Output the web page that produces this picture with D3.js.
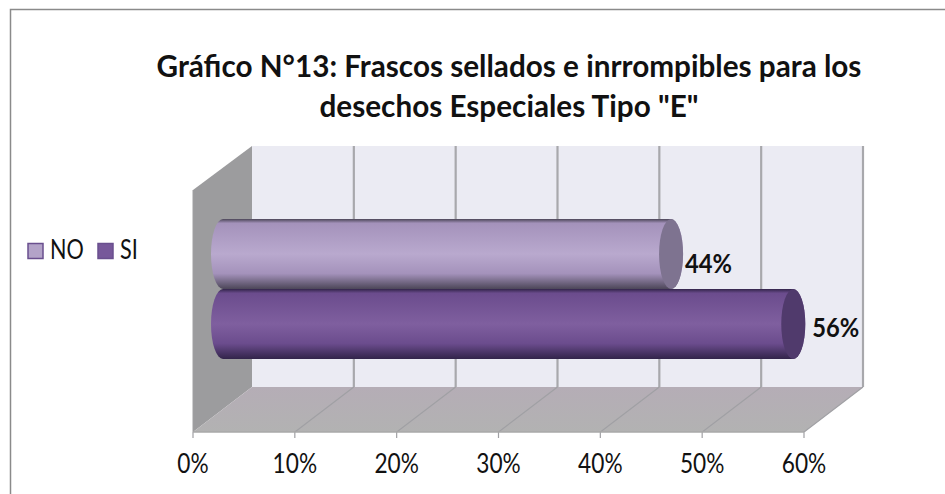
<!DOCTYPE html>
<html><head><meta charset="utf-8">
<script src="https://cdn.jsdelivr.net/npm/d3@7"></script>
<style>html,body{margin:0;background:#fff}svg{display:block}text{font-family:Lato,"Open Sans",sans-serif}</style>
</head><body><svg id="c" width="945" height="494"></svg>
<script>
const categories=["NO","SI"];
const seriesValues=[44,56];
const seriesLight=["#b9a9ce","#7f5f9f"];
const seriesDark=["#4c4658","#32244a"];
const seriesMid=["#a492bb","#6b4c8d"];
const seriesCap=["#7e7390","#503a6c"];
const xTicks=[0,10,20,30,40,50,60];
const titleLines=['Gráfico N°13: Frascos sellados e inrrompibles para los','desechos Especiales Tipo "E"'];

const svg=d3.select("#c");
const x=d3.scaleLinear().domain([0,60]).range([193,804]);
const y=d3.scaleBand().domain(categories).range([219,359]).padding(0);
const dx=59,dy=45,wallTop=146,front=432;
const narrow=k=>function(){
 const s=d3.select(this);
 s.attr("textLength",this.getComputedTextLength()*k).attr("lengthAdjust","spacingAndGlyphs");
};
const defs=svg.append("defs");
categories.forEach((c,i)=>{
 const g=defs.append("linearGradient").attr("id","g"+i).attr("x1",0).attr("y1",0).attr("x2",0).attr("y2",1);
 [[0,seriesDark[i]],[.06,seriesMid[i]],[.5,seriesLight[i]],[.78,seriesMid[i]],[1,seriesDark[i]]]
  .forEach(s=>g.append("stop").attr("offset",s[0]).attr("stop-color",s[1]));
});
const fl=defs.append("linearGradient").attr("id","fl").attr("x1",0).attr("y1",0).attr("x2",0).attr("y2",1);
fl.append("stop").attr("offset",0).attr("stop-color","#b5adb6");
fl.append("stop").attr("offset",1).attr("stop-color","#b2b2b2");

svg.append("rect").attr("x",10.5).attr("y",9.5).attr("width",960).attr("height",520)
 .attr("fill","#fff").attr("stroke","#8a8a8a").attr("stroke-width",1.5);

const tg=svg.append("g").attr("text-anchor","middle").attr("font-size",29.7).attr("font-weight",700).attr("fill","#111");
titleLines.forEach((t,i)=>tg.append("text").attr("x",509).attr("y",[77,117][i]).text(t));

const x0=x(0),x1=x(60);
svg.append("polygon").attr("points",[[x0+dx,wallTop],[x1+dx,wallTop],[x1+dx,front-dy],[x0+dx,front-dy]].join(" ")).attr("fill","#ebebf3");
svg.append("polygon").attr("points",[[x0,wallTop+dy-1],[x0+dx,wallTop],[x0+dx,front-dy],[x0,front]].join(" ")).attr("fill","#9c9c9e");
svg.append("polygon").attr("points",[[x0,front],[x0+dx,front-dy],[x1+dx,front-dy],[x1,front]].join(" ")).attr("fill","url(#fl)");

xTicks.forEach(t=>{
 const px=x(t);
 if(t>0){
  svg.append("path").attr("d",`M${px},${front+6}V${front}L${px+dx},${front-dy}`).attr("fill","none").attr("stroke","#a0a0a4").attr("stroke-width",1.2);
  svg.append("line").attr("x1",px+dx).attr("x2",px+dx).attr("y1",front-dy).attr("y2",wallTop).attr("stroke","#a8a8ac").attr("stroke-width",2.2);
 } else svg.append("line").attr("x1",px).attr("x2",px).attr("y1",front).attr("y2",front+6).attr("stroke","#a0a0a4").attr("stroke-width",1.2);
 svg.append("text").attr("x",px).attr("y",front+41).attr("text-anchor","middle").attr("font-size",27).attr("fill","#111").text(t+"%").each(narrow(.84));
});
svg.append("line").attr("x1",x0).attr("x2",x1).attr("y1",front).attr("y2",front).attr("stroke","#a8a8a8").attr("stroke-width",1.5);
svg.append("line").attr("x1",x0).attr("x2",x0).attr("y1",wallTop+dy-1).attr("y2",front).attr("stroke","#a0a0a2").attr("stroke-width",1);

const depth=30,rx=12,labelDx=[2,7],labelDy=[19,13];
categories.forEach((c,i)=>{
 const v=seriesValues[i],ye=x(v)+depth,xs=x(0)+depth,yt=y(c),h=y.bandwidth(),ry=h/2,cy=yt+ry;
 svg.append("path").attr("d",`M${xs},${yt}H${ye}A${rx},${ry} 0 0 1 ${ye},${yt+h}H${xs}A${rx},${ry} 0 0 1 ${xs},${yt}Z`).attr("fill",`url(#g${i})`);
 svg.append("ellipse").attr("cx",ye).attr("cy",cy).attr("rx",rx).attr("ry",ry).attr("fill",seriesCap[i]);
 svg.append("text").attr("x",ye+rx+labelDx[i]).attr("y",cy+labelDy[i]).attr("font-size",27).attr("font-weight",700).attr("fill","#111").text(v+"%").each(narrow(.88));
});

const legendX=[28,98],legendText=[50,120];
categories.forEach((c,i)=>{
 svg.append("rect").attr("x",legendX[i]).attr("y",243.5).attr("width",15).attr("height",15).attr("fill",i?"#77589a":"#b3a3c8").attr("stroke","#6a4f8e").attr("stroke-width",1.5);
 svg.append("text").attr("x",legendText[i]).attr("y",259).attr("font-size",27).attr("fill","#111").text(c).each(narrow(.8));
});
</script></body></html>
